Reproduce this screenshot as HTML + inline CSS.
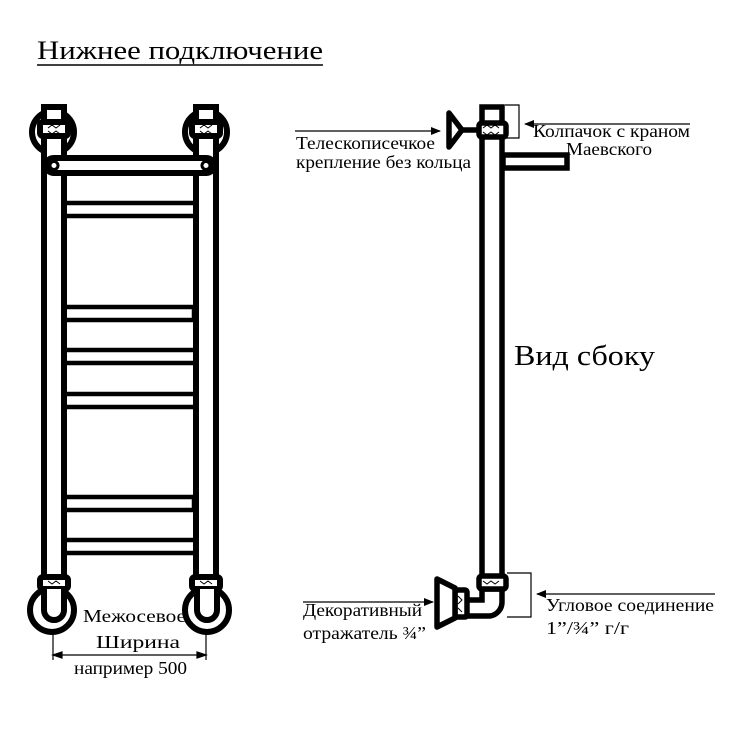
<!DOCTYPE html>
<html><head><meta charset="utf-8"><style>
html,body{margin:0;padding:0;background:#fff;}
svg{display:block;}
text{font-family:"Liberation Serif",serif;fill:#000;}
</style></head><body>
<svg width="734" height="734" viewBox="0 0 734 734" xmlns="http://www.w3.org/2000/svg">
<defs>
<marker id="ar" markerWidth="10" markerHeight="8" refX="9" refY="4" orient="auto" markerUnits="userSpaceOnUse"><path d="M0,0 L10,4 L0,8 z" fill="#000"/></marker>
</defs>
<rect width="734" height="734" fill="#fff"/>
<text x="37" y="59" font-size="26" textLength="286" lengthAdjust="spacingAndGlyphs">Нижнее подключение</text>
<line x1="37" y1="65" x2="323" y2="65" stroke="#000" stroke-width="1.5"/>

<g fill="none" stroke="#000" stroke-width="6">
<circle cx="53" cy="132" r="21"/>
<circle cx="206" cy="132" r="21"/>
<circle cx="52" cy="610" r="22"/>
<circle cx="207" cy="610" r="22"/>
<rect x="44" y="107" width="20" height="480" fill="#fff"/>
<rect x="196" y="107" width="20" height="480" fill="#fff"/>
<rect x="40" y="122" width="28" height="14" rx="3" fill="#fff"/>
<rect x="192" y="122" width="28" height="14" rx="3" fill="#fff"/>
<rect x="40" y="577" width="28" height="12" rx="3" fill="#fff"/>
<rect x="192" y="577" width="28" height="12" rx="3" fill="#fff"/>
<path d="M44,589 V610 A10,10 0 0 0 64,610 V589" fill="#fff"/>
<path d="M197,589 V610 A10,10 0 0 0 217,610 V589" fill="#fff"/>
<rect x="46" y="158" width="168" height="15" rx="7.5" fill="#fff"/>
<circle cx="54" cy="165.5" r="4" stroke-width="3"/>
<circle cx="206" cy="165.5" r="4" stroke-width="3"/>
<g stroke-width="4.5">
<rect x="64" y="203" width="132" height="13"/>
<rect x="64" y="307" width="130" height="13"/>
<rect x="64" y="350" width="132" height="13"/>
<rect x="64" y="394" width="132" height="13"/>
<rect x="64" y="497" width="130" height="13"/>
<rect x="64" y="540" width="132" height="13"/>
</g>
</g>
<g stroke="#000" stroke-width="1" fill="none">
<path d="M48,128 l4,-3 l4,3 l4,-3 M48,131 l4,3 l4,-3 l4,3"/>
<path d="M200,128 l4,-3 l4,3 l4,-3 M200,131 l4,3 l4,-3 l4,3"/>
<path d="M48,581 l4,3 l4,-3 l4,3 M200,581 l4,3 l4,-3 l4,3"/>
</g>
<g stroke="#000" stroke-width="1.2">
<line x1="53" y1="632" x2="53" y2="660"/>
<line x1="206" y1="632" x2="206" y2="660"/>
<line x1="55" y1="655" x2="204" y2="655"/>
<path d="M53,655 l9,-3 v6 z M206,655 l-9,-3 v6 z" fill="#000"/>
</g>
<text x="83" y="622" font-size="18" textLength="103" lengthAdjust="spacingAndGlyphs">Межосевое</text>
<text x="96" y="648" font-size="18" textLength="84" lengthAdjust="spacingAndGlyphs">Ширина</text>
<text x="74" y="674" font-size="18" textLength="113" lengthAdjust="spacingAndGlyphs">например 500</text>

<g fill="#fff" stroke="#000" stroke-width="5.5">
<rect x="503" y="155" width="64" height="13"/>
<rect x="482" y="107" width="20" height="470"/>
<rect x="479" y="123" width="27" height="14" rx="3"/>
<line x1="460" y1="130" x2="479" y2="130"/>
<path d="M449,113 L449,147 L462,130 Z" stroke-linejoin="round"/>
<path d="M482,589 V600 H466 V616 H490 A14,14 0 0 0 502,602 V589 Z"/>
<rect x="479" y="576" width="27" height="13" rx="3"/>
<rect x="455" y="590" width="12" height="27" rx="2"/>
<path d="M437,579 L455,588 L455,618 L437,627 Z" stroke-linejoin="round"/>
</g>
<g stroke="#000" stroke-width="1" fill="none">
<path d="M483,128 l4,-3 l4,3 l4,-3 l4,3 M483,132 l4,3 l4,-3 l4,3 l4,-3"/>
<path d="M483,581 l4,3 l4,-3 l4,3 l4,-3"/>
<path d="M458,596 l4,4 l-4,4 M458,608 l4,4"/>
</g>
<g stroke="#000" stroke-width="1.2" fill="none">
<path d="M505,105 H519 V138 H505"/>
<path d="M507,573 H531 V617 H507"/>
<line x1="295" y1="131" x2="440" y2="131" marker-end="url(#ar)"/>
<line x1="690" y1="124" x2="525" y2="124" marker-end="url(#ar)"/>
<line x1="303" y1="602" x2="433" y2="602" marker-end="url(#ar)"/>
<line x1="715" y1="594" x2="537" y2="594" marker-end="url(#ar)"/>
</g>
<text x="296" y="149" font-size="18" textLength="139" lengthAdjust="spacingAndGlyphs">Телескописечкое</text>
<text x="296" y="168" font-size="18" textLength="175" lengthAdjust="spacingAndGlyphs">крепление без кольца</text>
<text x="533" y="137" font-size="18" textLength="157" lengthAdjust="spacingAndGlyphs">Колпачок с краном</text>
<text x="566" y="155" font-size="18" textLength="86" lengthAdjust="spacingAndGlyphs">Маевского</text>
<text x="514" y="365" font-size="29" textLength="141" lengthAdjust="spacingAndGlyphs">Вид сбоку</text>
<text x="303" y="616" font-size="18" textLength="119" lengthAdjust="spacingAndGlyphs">Декоративный</text>
<text x="303" y="639" font-size="18" textLength="123" lengthAdjust="spacingAndGlyphs">отражатель ¾”</text>
<text x="546" y="611" font-size="18" textLength="168" lengthAdjust="spacingAndGlyphs">Угловое соединение</text>
<text x="546" y="634" font-size="18" textLength="83" lengthAdjust="spacingAndGlyphs">1”/¾” г/г</text>
</svg>
</body></html>
